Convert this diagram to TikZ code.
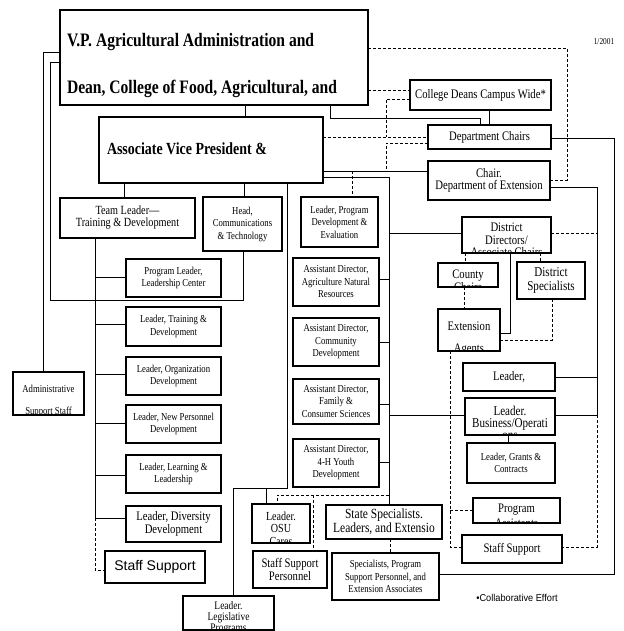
\documentclass[tikz,border=0pt]{standalone}
\usepackage{fontspec}
\setmainfont{Liberation Serif}[FakeStretch=0.82]
\newfontfamily\sansw{Liberation Sans}
\newfontfamily\sansn{Liberation Sans}[FakeStretch=0.92]
\newcommand{\fsA}{\fontsize{10.6}{12.5}\selectfont}
\newcommand{\fsB}{\fontsize{13}{12.7}\selectfont}
\begin{document}
\begin{tikzpicture}[x=1pt,y=-1pt,
  box/.style={draw,line width=1.3pt,fill=white,inner sep=0pt,outer sep=0pt,align=center},
  txt/.style={inner sep=0pt,outer sep=0pt,align=center},
  con/.style={line width=0.8pt},
  dsh/.style={line width=0.8pt,dash pattern=on 3pt off 2pt}]
\useasboundingbox (0,0) rectangle (623,631);
\fill[white] (0,0) rectangle (623,631);

% ---- top boxes
\node[box,minimum width=308pt,minimum height=95pt] (vp) at (214,57.5) {};
\node[txt,anchor=base west,font=\bfseries\fontsize{19}{19}\selectfont] (vpt1) at (67,47) {V.P. Agricultural Administration and};
\node[txt,anchor=base west,font=\bfseries\fontsize{19}{19}\selectfont] (vpt2) at (67,94) {Dean, College of Food, Agricultural, and};
\node[box,minimum width=224pt,minimum height=66pt] (avp) at (211,150) {};
\node[txt,anchor=base west,font=\bfseries\fontsize{17}{17}\selectfont] (avpt) at (107,155) {Associate Vice President \&};

\node[box,font=\fsB,minimum width=141pt,minimum height=30pt] (cd) at (480.5,95) {College Deans Campus Wide*};
\node[box,font=\fsB,minimum width=123pt,minimum height=24pt] (dc) at (489.5,137) {\raisebox{-5pt}{Department Chairs}};
\node[box,font=\fsB,minimum width=122pt,minimum height=39pt] (ce) at (489,180.5) {Chair.\\Department of Extension};
\node[txt,font=\fontsize{9}{9}\selectfont] (date) at (604,42) {1/2001};

% ---- left column
\node[box,font=\fontsize{12.5}{12}\selectfont,minimum width=135pt,minimum height=40pt] (tl) at (127.5,218) {Team Leader—\\Training \& Development};
\node[box,font=\fsA,minimum width=79pt,minimum height=54pt] (head) at (242.5,224) {Head,\\Communications\\\& Technology};
\node[box,font=\fsA,minimum width=95pt,minimum height=38pt] (pl) at (173.5,278) {Program Leader,\\Leadership Center};
\node[box,font=\fsA,minimum width=95pt,minimum height=39pt] (ltr) at (173.5,326.5) {Leader, Training \&\\Development};
\node[box,font=\fsA,minimum width=95pt,minimum height=38pt] (lorg) at (173.5,376) {Leader, Organization\\Development};
\node[box,font=\fsA,minimum width=95pt,minimum height=38pt] (lnew) at (173.5,424) {Leader, New Personnel\\Development};
\node[box,font=\fsA,minimum width=95pt,minimum height=38pt] (llearn) at (173.5,474) {Leader, Learning \&\\Leadership};
\node[box,font=\fsB,minimum width=95pt,minimum height=36pt] (ldiv) at (173.5,524) {Leader, Diversity\\Development};
\node[box,font=\sansw\fontsize{14}{14}\selectfont,minimum width=100pt,minimum height=32pt] (staffl) at (155,567) {Staff Support};
\node[box,minimum width=71pt,minimum height=43pt] (admin) at (48.5,393.5) {};
\begin{scope}\clip (admin.south west) rectangle (admin.north east);
\node[txt,font=\fsA] (admint) at (48.5,401) {Administrative\\[9pt]Support Staff};
\end{scope}

% ---- middle column
\node[box,font=\fsA,minimum width=77pt,minimum height=50pt] (lpd) at (339.5,222) {Leader, Program\\Development \&\\Evaluation};
\node[box,font=\fsA,minimum width=86pt,minimum height=48pt] (adag) at (336,282) {Assistant Director,\\Agriculture Natural\\Resources};
\node[box,font=\fsA,minimum width=86pt,minimum height=48pt] (adcom) at (336,342) {Assistant Director,\\Community\\Development};
\node[box,font=\fsA,minimum width=86pt,minimum height=45pt] (adfam) at (336,401.5) {Assistant Director,\\Family \&\\Consumer Sciences};
\node[box,font=\fsA,minimum width=86pt,minimum height=48pt] (ad4h) at (336,463) {Assistant Director,\\4-H Youth\\Development};
\node[box,minimum width=58pt,minimum height=39pt] (osu) at (281,523.5) {};
\begin{scope}\clip (osu.south west) rectangle (osu.north east);
\node[txt,font=\fontsize{12.3}{12.5}\selectfont] (osut) at (281,528.5) {Leader.\\OSU\\Cares};
\end{scope}
\node[box,font=\fontsize{14}{11.5}\selectfont,minimum width=116pt,minimum height=34pt] (state) at (384,522) {State Specialists.\\Leaders, and Extensio};
\node[box,font=\fsB,minimum width=74pt,minimum height=37pt] (ssp) at (290,569.5) {Staff Support\\Personnel};
\node[box,font=\fsA,minimum width=107pt,minimum height=47pt] (spec) at (385.5,576.5) {Specialists, Program\\Support Personnel, and\\Extension Associates};
\node[box,minimum width=91pt,minimum height=34pt] (legis) at (228.5,613) {};
\begin{scope}\clip (legis.south west) rectangle (legis.north east);
\node[txt,font=\fontsize{11.5}{11}\selectfont] (legist) at (228.5,617.5) {Leader.\\Legislative\\Programs};
\end{scope}

% ---- right column
\node[box,minimum width=89pt,minimum height=36pt] (dd) at (506.5,235) {};
\begin{scope}\clip (dd.south west) rectangle (dd.north east);
\node[txt,font=\fsB] (ddt) at (506.5,240) {District\\Directors/\\Associate Chairs};
\end{scope}
\node[box,minimum width=60pt,minimum height=24pt] (cc) at (468,275) {};
\begin{scope}\clip (cc.south west) rectangle (cc.north east);
\node[txt,font=\fsB] (cct) at (468,280.5) {County\\Chairs};
\end{scope}
\node[box,font=\fontsize{13.5}{14}\selectfont,minimum width=68pt,minimum height=37pt] (ds) at (551,280.5) {District\\Specialists};
\node[box,minimum width=62pt,minimum height=42pt] (ea) at (469,330) {};
\begin{scope}\clip (ea.south west) rectangle (ea.north east);
\node[txt,font=\fsB] (eat) at (469,338.5) {Extension\\[10pt]Agents};
\end{scope}
\node[box,font=\fsB,minimum width=92pt,minimum height=28pt] (lr) at (509,377) {\raisebox{-5pt}{Leader,}};
\node[box,minimum width=90pt,minimum height=37pt] (lbo) at (510,416.5) {};
\begin{scope}\clip (lbo.south west) rectangle (lbo.north east);
\node[txt,font=\fontsize{13.5}{12}\selectfont] (lbot) at (510,423) {Leader.\\Business/Operati\\ons};
\end{scope}
\node[box,font=\fsA,minimum width=88pt,minimum height=40pt] (lgc) at (511,463) {Leader, Grants \&\\Contracts};
\node[box,minimum width=87pt,minimum height=25pt] (pa) at (516.5,510.5) {};
\begin{scope}\clip (pa.south west) rectangle (pa.north east);
\node[txt,font=\fsB] (pat) at (516.5,516) {Program\\[2pt]Assistants};
\end{scope}
\node[box,font=\fsB,minimum width=100pt,minimum height=28pt] (ssr) at (512,549) {\raisebox{-3pt}{Staff Support}};
\node[txt,font=\sansn\fontsize{10}{10}\selectfont] (note) at (517,598) {•Collaborative Effort};

% ---- solid connectors
\draw[con] (vp.west |- 0,52) -- (43,52) -- (admin.north -| 43,0);
\draw[con] (vp.west |- 0,62) -- (50,62) -- (50,300) -- (243,300) -- (head.south -| 243,0);
\draw[con] (vp.south -| 245,0) -- (avp.north -| 245,0);
\draw[con] (vp.south -| 330,0) -- (330,118) -- (480,118) -- (dc.north -| 480,0);
\draw[con] (cd.south -| 489,0) -- (dc.north -| 489,0);
\draw[con] (avp.south -| 124,0) -- (tl.north -| 124,0);
\draw[con] (avp.south -| 244,0) -- (head.north -| 244,0);
\draw[con] (avp.south -| 287,0) -- (287,488) -- (233,488) -- (legis.north -| 233,0);
\draw[con] (266,488) -- (osu.north -| 266,0);
\draw[con] (avp.east |- 0,171) -- (ce.west |- 0,171);
\draw[con] (avp.east |- 0,177) -- (389,177) -- (state.north -| 389,0);
\draw[con] (389,279) -- (adag.east |- 0,279);
\draw[con] (389,342) -- (adcom.east |- 0,342);
\draw[con] (389,404) -- (adfam.east |- 0,404);
\draw[con] (389,462) -- (ad4h.east |- 0,462);
\draw[con] (389,233) -- (dd.west |- 0,233);
\draw[con] (389,415) -- (lbo.west |- 0,415);
\draw[con] (lbo.east |- 0,415) -- (597,415);
\draw[con] (ce.east |- 0,187) -- (597,187) -- (597,415);
\draw[con] (597,377) -- (lr.east |- 0,377);
\draw[con] (dc.east |- 0,138) -- (614,138) -- (614,574) -- (spec.east |- 0,574);
\draw[con] (tl.south -| 95,0) -- (95,518) -- (ldiv.west |- 0,518);
\draw[con] (95,277) -- (pl.west |- 0,277);
\draw[con] (95,324) -- (ltr.west |- 0,324);
\draw[con] (95,374) -- (lorg.west |- 0,374);
\draw[con] (95,423) -- (lnew.west |- 0,423);
\draw[con] (95,475) -- (llearn.west |- 0,475);
\draw[con] (dd.south -| 510,0) -- (510,333) -- (ea.east |- 0,333);
\draw[con] (lbo.south -| 508,0) -- (lgc.north -| 508,0);

% ---- dashed connectors
\draw[dsh] (state.south -| 390,0) -- (spec.north -| 390,0);
\draw[dsh] (352,171) -- (lpd.north -| 352,0);
\draw[dsh] (vp.east |- 0,48) -- (567,48) -- (567,180) -- (ce.east |- 0,180);
\draw[dsh] (vp.east |- 0,90) -- (cd.west |- 0,90);
\draw[dsh] (cd.west |- 0,99) -- (386,99) -- (386,137);
\draw[dsh] (avp.east |- 0,137) -- (dc.west |- 0,137);
\draw[dsh] (dc.west |- 0,143) -- (386,143) -- (386,171);
\draw[dsh] (dd.south -| 465,0) -- (cc.north -| 465,0);
\draw[dsh] (dd.south -| 540,0) -- (ds.north -| 540,0);
\draw[dsh] (cc.south -| 464,0) -- (ea.north -| 464,0);
\draw[dsh] (ds.south -| 552,0) -- (552,340) -- (ea.east |- 0,340);
\draw[dsh] (dd.east |- 0,233) -- (597,233);
\draw[dsh] (ea.south -| 450,0) -- (450,547) -- (ssr.west |- 0,547);
\draw[dsh] (450,510) -- (pa.west |- 0,510);
\draw[dsh] (597,415) -- (597,547) -- (ssr.east |- 0,547);
\draw[dsh] (389,495) -- (277,495) -- (osu.north -| 277,0);
\draw[dsh] (313,495) -- (ssp.north -| 313,0);
\draw[dsh] (95,518) -- (95,570) -- (staffl.west |- 0,570);
\end{tikzpicture}
\end{document}
